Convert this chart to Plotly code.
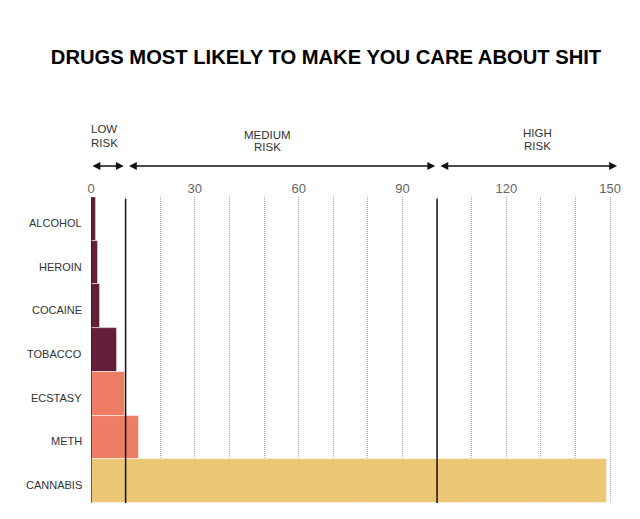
import plotly.graph_objects as go

drugs = ["ALCOHOL", "HEROIN", "COCAINE", "TOBACCO", "ECSTASY", "METH", "CANNABIS"]
values = [1.3, 2.1, 2.5, 7.5, 9.8, 13.8, 149]
colors = ["#5b1232", "#5b1232", "#5b1232", "#5b1232", "#ed775c", "#ed775c", "#ebc56f"]

risk_bounds = [0, 10, 100, 152]
risk_line1 = ["LOW", "MEDIUM", "HIGH"]
risk_line2 = ["RISK", "RISK", "RISK"]
risk_label_x = [3.8, 51, 129]
tick_vals = [0, 30, 60, 90, 120, 150]

# page has an 8px body margin: figure is 632x511 placed at (8, 8)
W, H = 632, 511
OFF = 8
PLOT_TOP, PLOT_BOT = 197, 503  # screen px
def py(ys):
    return (PLOT_BOT - ys) / (PLOT_BOT - PLOT_TOP)

label_rows = [(129.5, 142.5), (135, 147.5), (132.5, 146.5)]  # screen px of the two text lines

fig = go.Figure()
fig.add_trace(go.Bar(
    x=values, y=drugs, orientation="h",
    marker=dict(color=colors, line=dict(color="rgba(255,255,255,0.7)", width=0.8)),
    opacity=0.95, hoverinfo="skip"))

fig.update_layout(
    width=W, height=H,
    margin=dict(l=82.5, r=23, t=PLOT_TOP - OFF, b=H - (PLOT_BOT - OFF)),
    paper_bgcolor="white", plot_bgcolor="white",
    bargap=0, showlegend=False,
    font=dict(family="Liberation Sans, Arial, sans-serif", color="#333"),
    title=dict(text="<b>DRUGS MOST LIKELY TO MAKE YOU CARE ABOUT SHIT</b>",
               x=(326 - OFF) / W, xanchor="center", xref="container",
               y=1 - (57 - OFF) / H, yanchor="middle", yref="container",
               font=dict(size=20.2, color="#000", family="Liberation Sans, Arial, sans-serif")),
)
fig.update_xaxes(
    range=[0, 152], side="top", tickvals=tick_vals, ticks="",
    tickfont=dict(size=13, color="#666"), ticklabelstandoff=0,
    showgrid=True, gridcolor="#b0b0b0", griddash="1px,1px", gridwidth=1,
    minor=dict(dtick=10, tick0=0, showgrid=True, gridcolor="#b0b0b0", griddash="1px,1px", gridwidth=1),
    zeroline=False, showline=False, fixedrange=True)
fig.update_yaxes(
    categoryorder="array", categoryarray=drugs, autorange="reversed",
    showticklabels=False, showgrid=False, zeroline=False, showline=False)

# zero line at the bars' base and solid risk boundaries
for b in risk_bounds[:3]:
    fig.add_shape(type="line", xref="x", yref="paper", x0=b, x1=b, y0=0, y1=0.994,
                  line=dict(color="#111", width=1.5 if b else 1.2), layer="above")

# category labels
for d in drugs:
    fig.add_annotation(text=d, xref="paper", x=0, xanchor="right", xshift=-7,
                       yref="y", y=d, yshift=-4, showarrow=False,
                       font=dict(size=11, color="#333"))

# risk arrows
gap = 0.55
for i in range(3):
    x0 = risk_bounds[i] + (gap if i else 0)
    x1 = risk_bounds[i + 1] - (gap if i < 2 else 0)
    fig.add_annotation(x=x1, y=py(166), xref="x", yref="paper",
                       ax=x0, ay=0, axref="x", ayref="pixel",
                       text="", showarrow=True, arrowside="end+start",
                       arrowhead=2, arrowsize=1.2, arrowwidth=1.3, arrowcolor="#111",
                       standoff=0, startstandoff=0)
    for txt, ys in ((risk_line1[i], label_rows[i][0]), (risk_line2[i], label_rows[i][1])):
        fig.add_annotation(x=risk_label_x[i], y=py(ys), xref="x", yref="paper",
                           xanchor="center", yanchor="middle",
                           text=txt, showarrow=False,
                           font=dict(size=11.5, color="#333"))

fig.write_html("out.html")
